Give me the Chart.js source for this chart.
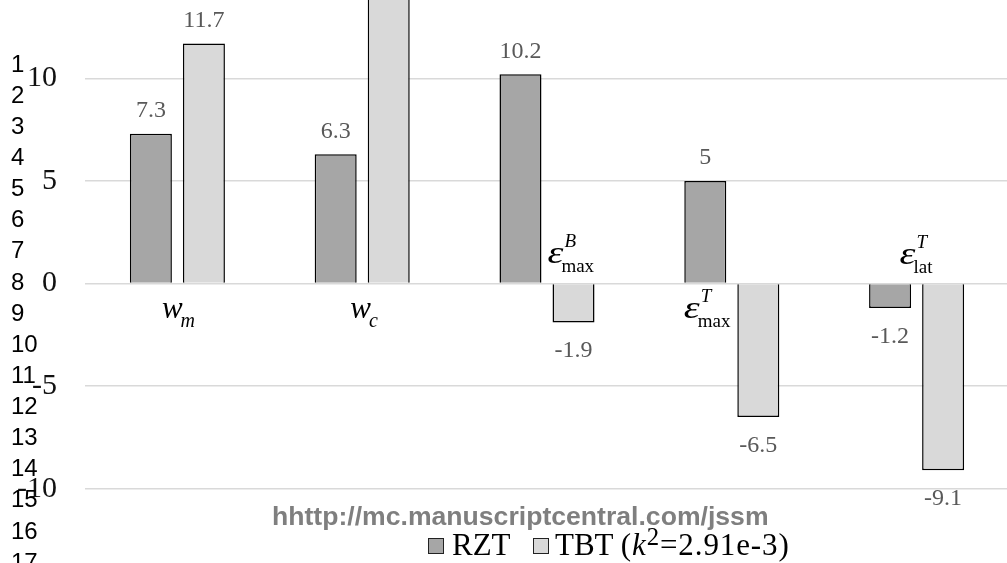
<!DOCTYPE html>
<html>
<head>
<meta charset="utf-8">
<script src="https://cdn.jsdelivr.net/npm/chart.js@4/dist/chart.umd.min.js"></script>
<style>
html,body{margin:0;padding:0;background:#fff;overflow:hidden;width:1007px;height:563px;}
#wrap{position:absolute;left:0;top:0;width:1009px;height:563px;}
#lines{position:absolute;left:11px;top:47.7px;font:24px "Liberation Sans",Arial,sans-serif;line-height:31.13px;color:#000;}
#wm{position:absolute;left:272px;top:500.5px;font:bold 26.6px "Liberation Sans",Arial,sans-serif;line-height:30px;color:#7f7f7f;white-space:nowrap;}
.sw{position:absolute;width:14px;height:14px;border:1.5px solid #222;}
.lt{position:absolute;font:31px "Liberation Serif","Times New Roman",serif;line-height:34px;color:#000;white-space:nowrap;}
.par{letter-spacing:0.9px;}
</style>
</head>
<body>
<div id="wrap"><canvas id="c" width="1009" height="563"></canvas></div>
<div id="lines"></div>
<div id="wm">hhttp://mc.manuscriptcentral.com/jssm</div>
<div id="legend"></div>
<script>
// ---- data ----
const categories = ['w_m', 'w_c', 'eps_max_B', 'eps_max_T', 'eps_lat_T'];
const catMain = ['w', 'w', 'ε', 'ε', 'ε'];
const catSub  = ['m', 'c', 'max', 'max', 'lat'];
const catSup  = ['', '', 'B', 'T', 'T'];
const rztValues = [7.3, 6.3, 10.2, 5, -1.2];
const tbtValues = [11.7, 15.0, -1.9, -6.5, -9.1];
const seriesNames = ['RZT', 'TBT'];
const yTicks = [-10, -5, 0, 5, 10];
const lineNumbers = [1,2,3,4,5,6,7,8,9,10,11,12,13,14,15,16,17];

// ---- presentation ----
const colors = ['#a6a6a6', '#d9d9d9'];
const catLabelDx = [-15.5, -12, 0.5, -48, -17];
const catLabelDy = [34.5, 34.5, -20.5, 34.5, -19.5];
const catSubItalic = [true, true, false, false, false];

document.getElementById('lines').innerHTML = lineNumbers.map(n => '<div>' + n + '</div>').join('');

// legend
const legend = document.getElementById('legend');
const legendSwX = [428, 533];
const legendTxtX = [452, 555];
const legendTexts = [seriesNames[0], seriesNames[1] + ' <span class="par">(<i>k</i><sup style="font-size:0.8em;line-height:0;vertical-align:0.42em">2</sup>=2.91e-3)</span>'];
seriesNames.forEach((n, i) => {
  const sw = document.createElement('div');
  sw.className = 'sw';
  sw.style.left = legendSwX[i] + 'px';
  sw.style.top = '538px';
  sw.style.background = colors[i];
  legend.appendChild(sw);
  const t = document.createElement('div');
  t.className = 'lt';
  t.style.left = legendTxtX[i] + 'px';
  t.style.top = '527.5px';
  t.innerHTML = legendTexts[i];
  legend.appendChild(t);
});

const catLabelPlugin = {
  id: 'catLabels',
  afterDatasetsDraw(chart) {
    const ctx = chart.ctx, xs = chart.scales.x, ys = chart.scales.y;
    const y0 = ys.getPixelForValue(0);
    ctx.save();
    ctx.fillStyle = '#000';
    ctx.textAlign = 'left';
    ctx.textBaseline = 'alphabetic';
    categories.forEach((c, i) => {
      const x = xs.getPixelForValue(i) + catLabelDx[i];
      const base = y0 + catLabelDy[i];
      const isEps = catMain[i] === 'ε';
      const sx = isEps ? 1.3 : 1;
      ctx.font = 'italic 31px "Liberation Serif"';
      ctx.save();
      ctx.translate(x, base);
      ctx.scale(sx, 1);
      ctx.fillText(catMain[i], 0, 0);
      ctx.restore();
      const w = ctx.measureText(catMain[i]).width * sx;
      ctx.font = (catSubItalic[i] ? 'italic 20px' : '19px') + ' "Liberation Serif"';
      ctx.fillText(catSub[i], x + w - 2, base + 9);
      if (catSup[i]) {
        ctx.font = 'italic 19px "Liberation Serif"';
        ctx.fillText(catSup[i], x + w + 1, base - 16);
      }
    });
    ctx.restore();
  }
};

const valueLabelPlugin = {
  id: 'valueLabels',
  afterDatasetsDraw(chart) {
    const ctx = chart.ctx;
    ctx.save();
    ctx.fillStyle = '#595959';
    ctx.font = '24px "Liberation Serif"';
    ctx.textAlign = 'center';
    ctx.textBaseline = 'alphabetic';
    chart.data.datasets.forEach((ds, di) => {
      const meta = chart.getDatasetMeta(di);
      meta.data.forEach((el, i) => {
        const v = ds.data[i];
        const y = v >= 0 ? el.y - 16.5 : el.y + 35;
        ctx.fillText(String(v), el.x, y);
      });
    });
    ctx.restore();
  }
};

new Chart(document.getElementById('c'), {
  type: 'bar',
  data: {
    labels: categories,
    datasets: [
      { label: seriesNames[0], data: rztValues, backgroundColor: colors[0], borderColor: '#000', borderWidth: 1.5,
        categoryPercentage: 0.574, barPercentage: 0.792 },
      { label: seriesNames[1], data: tbtValues, backgroundColor: colors[1], borderColor: '#000', borderWidth: 1.5,
        categoryPercentage: 0.574, barPercentage: 0.792 }
    ]
  },
  options: {
    responsive: false,
    animation: false,
    events: [],
    layout: { padding: 0 },
    plugins: { legend: { display: false }, tooltip: { enabled: false } },
    scales: {
      x: { display: false },
      y: {
        min: -13.621, max: 13.816,
        afterBuildTicks: s => { s.ticks = yTicks.map(v => ({ value: v })); },
        afterFit: s => { s.width = 85; s.paddingTop = 0; s.paddingBottom = 0; },
        grid: { color: '#d9d9d9', lineWidth: 1.5, drawTicks: false },
        border: { display: false },
        ticks: {
          padding: 28,
          color: '#111',
          font: { family: '"Liberation Serif"', size: 30 },
          callback: v => String(v)
        }
      }
    }
  },
  plugins: [catLabelPlugin, valueLabelPlugin]
});
</script>
</body>
</html>
